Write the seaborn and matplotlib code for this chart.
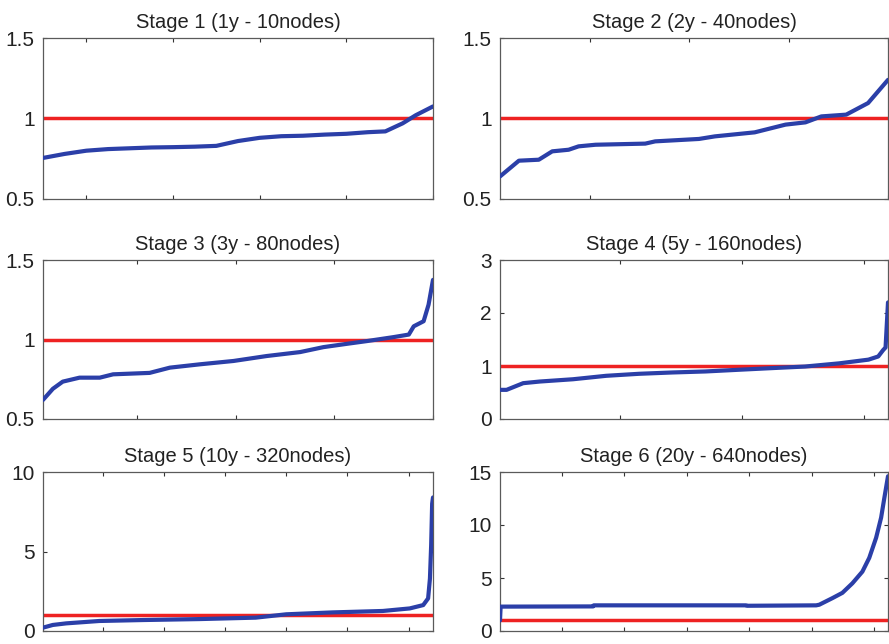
import matplotlib
matplotlib.use("Agg")
import matplotlib.pyplot as plt
import seaborn as sns
import pandas as pd

# ---------------- data ----------------
titles = ["Stage 1 (1y - 10nodes)", "Stage 2 (2y - 40nodes)",
          "Stage 3 (3y - 80nodes)", "Stage 4 (5y - 160nodes)",
          "Stage 5 (10y - 320nodes)", "Stage 6 (20y - 640nodes)"]

s1_x = [1.0, 1.5, 2.0, 2.5, 3.0, 3.5, 4.0, 4.5, 5.0, 5.5, 6.0, 6.5, 7.0, 7.5, 8.0, 8.5, 8.9, 9.3, 9.6, 10.0]
s1_y = [0.755, 0.78, 0.80, 0.81, 0.815, 0.82, 0.822, 0.825, 0.83, 0.86, 0.88, 0.89, 0.893, 0.90, 0.905, 0.915, 0.92, 0.97, 1.02, 1.075]

s2_x = [1, 2.9, 4.9, 6.25, 7.9, 8.9, 10.6, 15.6, 16.6, 21, 22.6, 26.6, 29.7, 31.7, 33.3, 35.8, 38, 40]
s2_y = [0.64, 0.738, 0.744, 0.796, 0.806, 0.827, 0.837, 0.844, 0.858, 0.873, 0.889, 0.914, 0.962, 0.976, 1.013, 1.024, 1.096, 1.24]

s3_x = [1, 3, 5, 8.4, 12.5, 15.2, 22.6, 26.7, 32.8, 39.6, 46.3, 53.1, 57.8, 62.6, 66.6, 72, 75.1, 76.1, 78.1, 79.1, 80]
s3_y = [0.62, 0.69, 0.735, 0.76, 0.76, 0.781, 0.79, 0.823, 0.844, 0.865, 0.896, 0.921, 0.952, 0.973, 0.99, 1.015, 1.031, 1.083, 1.115, 1.219, 1.375]

s4_x = [1, 3.7, 10.5, 17.3, 30.9, 44.5, 58, 71.7, 85.2, 98.8, 112.4, 126, 140, 152, 156, 158, 159, 160]
s4_y = [0.55, 0.55, 0.676, 0.707, 0.75, 0.815, 0.853, 0.878, 0.897, 0.929, 0.96, 0.99, 1.05, 1.12, 1.18, 1.30, 1.35, 2.2]

s5_x = [1, 9, 20, 47, 83, 129, 175, 200, 238, 279, 301, 312, 316, 317.5, 318.5, 319.3, 320]
s5_y = [0.21, 0.38, 0.48, 0.63, 0.69, 0.75, 0.84, 1.05, 1.17, 1.26, 1.42, 1.63, 2.05, 3.3, 5.4, 8.0, 8.4]

s6_x = [1, 2, 150, 151, 395, 396, 507, 512, 533, 549, 565, 581, 592, 603, 611, 616, 622]
s6_y = [1.0, 2.3, 2.32, 2.42, 2.42, 2.38, 2.42, 2.48, 3.1, 3.6, 4.5, 5.6, 6.9, 8.8, 10.7, 12.5, 14.6]

series_x = [s1_x, s2_x, s3_x, s4_x, s5_x, s6_x]
series_y = [s1_y, s2_y, s3_y, s4_y, s5_y, s6_y]

x_limits = [(1, 10), (1, 40), (1, 80), (1, 160), (1, 320), (1, 622)]
x_ticks = [[2, 4, 6, 8, 10], [10, 20, 30, 40], [20, 40, 60, 80], [50, 100, 150],
           [50, 100, 150, 200, 250, 300], [100, 200, 300, 400, 500, 600]]
y_limits = [(0.5, 1.5), (0.5, 1.5), (0.5, 1.5), (0, 3), (0, 10), (0, 15)]
y_ticks = [[0.5, 1, 1.5], [0.5, 1, 1.5], [0.5, 1, 1.5], [0, 1, 2, 3], [0, 5, 10], [0, 5, 10, 15]]
y_ticklabels = [["0.5", "1", "1.5"], ["0.5", "1", "1.5"], ["0.5", "1", "1.5"],
                ["0", "1", "2", "3"], ["0", "5", "10"], ["0", "5", "10", "15"]]
reference_level = 1.0

# ---------------- style ----------------
sns.set_style("white")
plt.rcParams["font.family"] = ["Liberation Sans", "DejaVu Sans"]

BLUE = "#2b3fa8"
RED = "#ee2222"
SPINE = "#5a5a5a"

fig = plt.figure(figsize=(8.89, 6.44), dpi=100)

W, H = 889.0, 644.0
col_px = [(43, 433), (500, 888)]
row_px = [(38, 199), (260, 419), (472, 631)]

for i in range(6):
    r, c = divmod(i, 2)
    x0, x1 = col_px[c]
    y0, y1 = row_px[r]
    ax = fig.add_axes([x0 / W, (H - y1) / H, (x1 - x0) / W, (y1 - y0) / H])

    df = pd.DataFrame({"node": series_x[i], "value": series_y[i]})
    ax.axhline(reference_level, color=RED, linewidth=2.5, zorder=2)
    sns.lineplot(data=df, x="node", y="value", ax=ax, color=BLUE,
                 linewidth=3.0, zorder=3, estimator=None, sort=False)

    ax.set_xlim(*x_limits[i])
    ax.set_ylim(*y_limits[i])
    ax.set_xticks(x_ticks[i])
    ax.set_xticklabels([])
    ax.set_yticks(y_ticks[i])
    ax.set_yticklabels(y_ticklabels[i], fontsize=15, color="#222222")
    ax.set_xlabel("")
    ax.set_ylabel("")
    ax.tick_params(direction="in", length=3, width=0.8, color="#333333",
                   top=True, bottom=True, left=True, right=True, pad=6)
    for sp in ax.spines.values():
        sp.set_visible(True)
        sp.set_color(SPINE)
        sp.set_linewidth(0.9)
    ax.set_title(titles[i], fontsize=14.5, color="#222222", pad=7)

fig.savefig("out.png", dpi=100)
